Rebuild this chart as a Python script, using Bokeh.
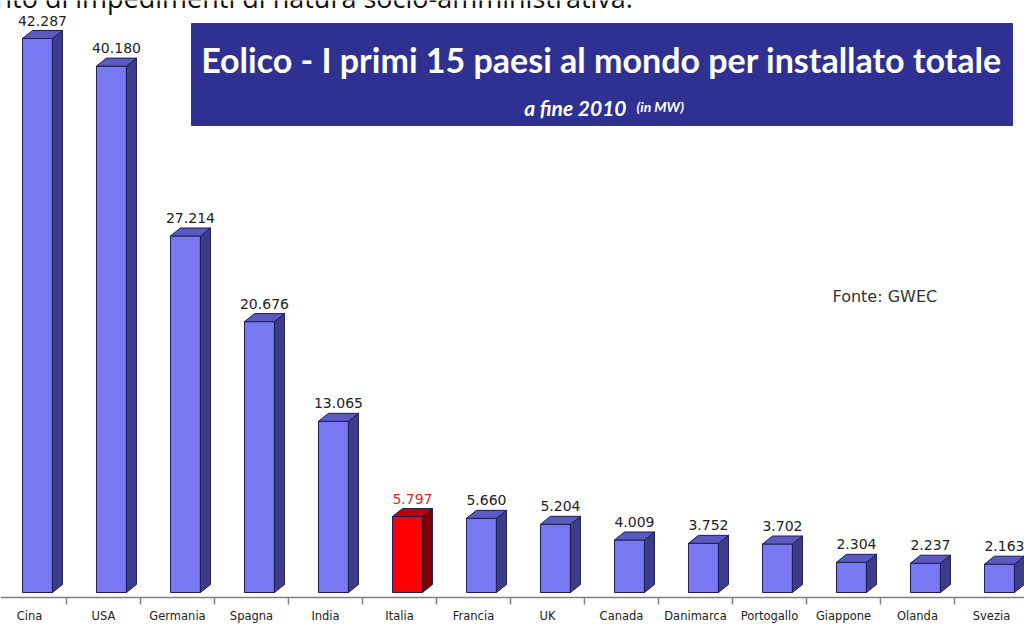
from bokeh.plotting import figure
from bokeh.models import Range1d, FixedTicker, ColumnDataSource
from bokeh.core.properties import value
from bokeh.embed import file_html
from bokeh.resources import INLINE

# ---- data ----
countries = ["Cina", "USA", "Germania", "Spagna", "India", "Italia", "Francia",
             "UK", "Canada", "Danimarca", "Portogallo", "Giappone", "Olanda", "Svezia"]
installed_mw = [42287, 40180, 27214, 20676, 13065, 5797, 5660,
                5204, 4009, 3752, 3702, 2304, 2237, 2163]
value_labels = [f"{v:,}".replace(",", ".") for v in installed_mw]
highlight = "Italia"
title_text = "Eolico - I primi 15 paesi al mondo per installato totale"
subtitle_text = "a fine 2010"
unit_text = "(in MW)"
source_text = "Fonte: GWEC"
page_text = "nto di impedimenti di natura socio-amministrativa."

# ---- layout constants (pixels) ----
W, H = 1024, 626
FH = H
CAT_PX = 74.0
FIRST_CENTER_PX = 29.0
X0 = -FIRST_CENTER_PX / CAT_PX
X1 = (W - FIRST_CENTER_PX) / CAT_PX
BASE_PX = 592          # bottom of bars
AXIS_PX = 597          # axis line
K = max(installed_mw) / 554.0  # MW per pixel
Y1 = BASE_PX * K
Y0 = -(FH - BASE_PX) * K


def sx(px):
    return X0 + px * (X1 - X0) / W


def sy(py):
    return Y1 - py * (Y1 - Y0) / FH


FRONT_L = -0.095
FRONT_R = 0.31
DX = 10 / CAT_PX
DY = 8 * K

p = figure(width=W, height=H, output_backend="svg", toolbar_location=None,
           x_range=Range1d(X0, X1), y_range=Range1d(Y0, Y1),
           min_border_left=0, min_border_right=0, min_border_top=0,
           min_border_bottom=0)
p.outline_line_color = None
p.background_fill_color = "white"
p.border_fill_color = "white"
p.xgrid.visible = False
p.ygrid.visible = False
p.yaxis.visible = False

# ---- clipped page text at the very top ----
p.text(x=[sx(-5)], y=[sy(-3)], text=[page_text], text_color="#111111",
       text_font=value("Open Sans"), text_font_size="27px",
       text_align="left", text_baseline="alphabetic")

# ---- 3D bars ----
front_c, side_c, top_c = [], [], []
for c in countries:
    if c == highlight:
        front_c.append("#FF0000"); side_c.append("#800000"); top_c.append("#C00000")
    else:
        front_c.append("#7878F2"); side_c.append("#3C3C8C"); top_c.append("#5A5AC0")

idx = list(range(len(countries)))
front = ColumnDataSource(dict(
    left=[i + FRONT_L for i in idx], right=[i + FRONT_R for i in idx],
    top=installed_mw, bottom=[0] * len(idx), color=front_c))
p.quad(left="left", right="right", top="top", bottom="bottom", source=front,
       fill_color="color", line_color="#1E1E50", line_width=1)

side = ColumnDataSource(dict(
    xs=[[i + FRONT_R, i + FRONT_R + DX, i + FRONT_R + DX, i + FRONT_R] for i in idx],
    ys=[[0, DY, v + DY, v] for v in installed_mw], color=side_c))
p.patches("xs", "ys", source=side, fill_color="color", line_color="#1E1E50", line_width=1)

topf = ColumnDataSource(dict(
    xs=[[i + FRONT_L, i + FRONT_R, i + FRONT_R + DX, i + FRONT_L + DX] for i in idx],
    ys=[[v, v, v + DY, v + DY] for v in installed_mw], color=top_c))
p.patches("xs", "ys", source=topf, fill_color="color", line_color="#1E1E50", line_width=1)

# value labels
lab = ColumnDataSource(dict(
    x=[i + (FRONT_L + FRONT_R + DX) / 2 for i in idx], y=installed_mw, text=value_labels,
    color=["#E02828" if c == highlight else "#222222" for c in countries]))
p.text(x="x", y="y", text="text", source=lab, text_color="color",
       text_font=value("DejaVu Sans"), text_font_size="14px",
       text_align="center", text_baseline="middle", y_offset=-18)

# ---- title box ----
p.quad(left=[sx(191)], right=[sx(1012)], top=[sy(23)], bottom=[sy(125)],
       fill_color="#2E3192", line_color="#2E3192")
p.text(x=[sx(601)], y=[sy(59)], text=[title_text], text_color="white",
       text_font=value("Lato"), text_font_style="bold", text_font_size="34px",
       text_align="center", text_baseline="middle")
p.text(x=[sx(626)], y=[sy(107)], text=[subtitle_text], text_color="white",
       text_font=value("Lato"), text_font_style="bold italic", text_font_size="21px",
       text_align="right", text_baseline="alphabetic")
p.text(x=[sx(636)], y=[sy(106)], text=[unit_text], text_color="white",
       text_font=value("Lato"), text_font_style="bold italic", text_font_size="14px",
       text_align="left", text_baseline="alphabetic")

# source note
p.text(x=[sx(832)], y=[sy(296)], text=[source_text], text_color="#333333",
       text_font=value("DejaVu Sans"), text_font_size="16px",
       text_align="left", text_baseline="middle")

# ---- x axis (fixed at the floor line) ----
ax = p.xaxis[0]
ax.fixed_location = sy(AXIS_PX)
ax.ticker = FixedTicker(ticks=idx, minor_ticks=[i + 0.5 for i in range(-1, len(countries))])
ax.major_label_overrides = {i: c for i, c in zip(idx, countries)}
ax.axis_line_color = "#808080"
ax.axis_line_width = 1.5
ax.major_tick_line_color = None
ax.major_tick_out = 0
ax.major_tick_in = 0
ax.minor_tick_line_color = "#808080"
ax.minor_tick_line_width = 1.5
ax.minor_tick_in = 0
ax.minor_tick_out = 7
ax.major_label_standoff = 4
ax.major_label_text_font = "DejaVu Sans"
ax.major_label_text_font_size = "11.5px"
ax.major_label_text_color = "#222222"

open("out.html", "w").write(file_html(p, INLINE))
